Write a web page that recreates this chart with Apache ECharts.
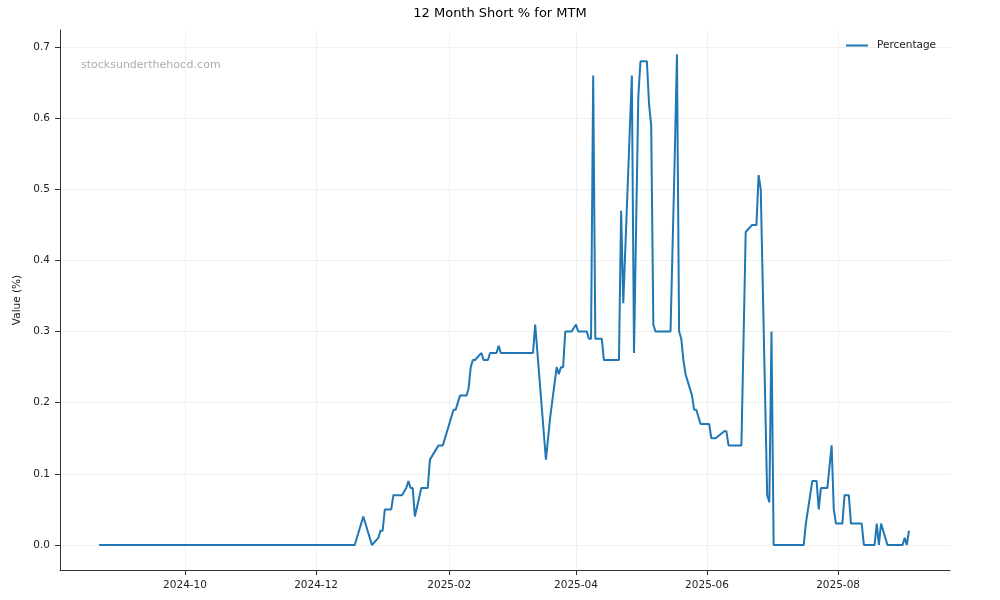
<!DOCTYPE html>
<html>
<head>
<meta charset="utf-8">
<script src="https://cdn.jsdelivr.net/npm/echarts@6/dist/echarts.min.js"></script>
<style>
  html, body { margin: 0; padding: 0; background: #fff; }
  #chart { width: 1000px; height: 600px; }
</style>
</head>
<body>
<div id="chart"></div>
<script>
const chartTitle = '12 Month Short % for MTM';
const seriesName = 'Percentage';
const yAxisName = 'Value (%)';
const watermark = 'stocksunderthehood.com';

const dates = [
  '2024-08-22','2024-12-19','2024-12-23','2024-12-27','2024-12-30','2024-12-31',
  '2025-01-01','2025-01-02','2025-01-05','2025-01-06','2025-01-10','2025-01-12',
  '2025-01-13','2025-01-14','2025-01-15','2025-01-16','2025-01-19','2025-01-22',
  '2025-01-23','2025-01-27','2025-01-29','2025-02-03','2025-02-04','2025-02-06',
  '2025-02-09','2025-02-10','2025-02-11','2025-02-12','2025-02-13','2025-02-16',
  '2025-02-17','2025-02-19','2025-02-20','2025-02-23','2025-02-24','2025-02-25',
  '2025-03-12','2025-03-13','2025-03-18','2025-03-20','2025-03-23','2025-03-24',
  '2025-03-25','2025-03-26','2025-03-27','2025-03-30','2025-04-01','2025-04-02',
  '2025-04-06','2025-04-07','2025-04-08','2025-04-09','2025-04-10','2025-04-13',
  '2025-04-14','2025-04-21','2025-04-22','2025-04-23','2025-04-27','2025-04-28',
  '2025-04-30','2025-05-01','2025-05-04','2025-05-05','2025-05-06','2025-05-07',
  '2025-05-08','2025-05-15','2025-05-17','2025-05-18','2025-05-19','2025-05-20',
  '2025-05-21','2025-05-22','2025-05-23','2025-05-25','2025-05-26','2025-05-27',
  '2025-05-29','2025-06-02','2025-06-03','2025-06-05','2025-06-09','2025-06-10',
  '2025-06-11','2025-06-17','2025-06-19','2025-06-22','2025-06-24','2025-06-25',
  '2025-06-26','2025-06-29','2025-06-30','2025-07-01','2025-07-02','2025-07-16',
  '2025-07-17','2025-07-20','2025-07-22','2025-07-23','2025-07-24','2025-07-27',
  '2025-07-29','2025-07-30','2025-07-31','2025-08-03','2025-08-04','2025-08-06',
  '2025-08-07','2025-08-12','2025-08-13','2025-08-18','2025-08-19','2025-08-20',
  '2025-08-21','2025-08-24','2025-08-31','2025-09-01','2025-09-02','2025-09-03'
];
const values = [
  0.00,0.00,0.04,0.00,0.01,0.02,
  0.02,0.05,0.05,0.07,0.07,0.08,
  0.09,0.08,0.08,0.04,0.08,0.08,
  0.12,0.14,0.14,0.19,0.19,0.21,
  0.21,0.22,0.25,0.26,0.26,0.27,
  0.26,0.26,0.27,0.27,0.28,0.27,
  0.27,0.31,0.12,0.18,0.25,0.24,
  0.25,0.25,0.30,0.30,0.31,0.30,
  0.30,0.29,0.29,0.66,0.29,0.29,
  0.26,0.26,0.47,0.34,0.66,0.27,
  0.63,0.68,0.68,0.62,0.59,0.31,
  0.30,0.30,0.55,0.69,0.30,0.29,
  0.26,0.24,0.23,0.21,0.19,0.19,
  0.17,0.17,0.15,0.15,0.16,0.16,
  0.14,0.14,0.44,0.45,0.45,0.52,
  0.50,0.07,0.06,0.30,0.00,0.00,
  0.03,0.09,0.09,0.05,0.08,0.08,
  0.14,0.05,0.03,0.03,0.07,0.07,
  0.03,0.03,0.00,0.00,0.03,0.00,
  0.03,0.00,0.00,0.01,0.00,0.02
];
const xTickDates = ['2024-10-01','2024-12-01','2025-02-01','2025-04-01','2025-06-01','2025-08-01'];
const yTickValues = [0, 0.1, 0.2, 0.3, 0.4, 0.5, 0.6, 0.7];

const DAY = 86400000;
const toTs = d => Date.UTC(+d.slice(0, 4), +d.slice(5, 7) - 1, +d.slice(8, 10));
const ref = toTs('2024-10-01');
const xMin = ref - 58.2 * DAY;
const xMax = ref + 356.1 * DAY;

const seriesData = dates.map((d, i) => [toTs(d), values[i]]);
const xTicks = xTickDates.map(toTs);

const font = 'DejaVu Sans';
const chart = echarts.init(document.getElementById('chart'), null, { renderer: 'canvas' });
chart.setOption({
  animation: false,
  backgroundColor: '#ffffff',
  title: {
    text: chartTitle,
    left: 'center',
    top: 2,
    textStyle: { fontFamily: font, fontSize: 13, fontWeight: 'normal', color: '#000' }
  },
  legend: {
    data: [{ name: seriesName, icon: 'rect' }],
    left: 841,
    top: 35,
    itemWidth: 22,
    itemHeight: 2,
    itemGap: 8,
    textStyle: { fontFamily: font, fontSize: 10.5, color: '#222', padding: [0, 0, 0, 4] }
  },
  grid: { left: 60, right: 50, top: 30, bottom: 30, containLabel: false },
  graphic: [{
    type: 'text',
    left: 81,
    top: 60,
    style: { text: watermark, fontFamily: font, fontSize: 11, fill: 'rgba(128,128,128,0.65)' }
  }],
  xAxis: {
    type: 'value',
    min: xMin,
    max: xMax,
    axisLine: { show: true, onZero: false, lineStyle: { color: '#333', width: 1 } },
    axisTick: { show: true, length: 5, lineStyle: { color: '#333' }, customValues: xTicks },
    axisLabel: {
      customValues: xTicks,
      margin: 10,
      fontFamily: font, fontSize: 10.5, color: '#222',
      formatter: function (v) {
        const d = new Date(v);
        return d.getUTCFullYear() + '-' + String(d.getUTCMonth() + 1).padStart(2, '0');
      }
    },
    splitLine: { show: true, lineStyle: { color: '#f0f0f0', width: 1 } }
  },
  yAxis: {
    type: 'value',
    min: -0.0352,
    max: 0.724,
    name: yAxisName,
    nameLocation: 'middle',
    nameGap: 33,
    nameTextStyle: { fontFamily: font, fontSize: 10.5, color: '#222' },
    axisLine: { show: true, onZero: false, lineStyle: { color: '#333', width: 1 } },
    axisTick: { show: true, length: 5, lineStyle: { color: '#333' }, customValues: yTickValues },
    axisLabel: {
      customValues: yTickValues,
      margin: 10,
      fontFamily: font, fontSize: 10.5, color: '#222',
      formatter: v => v.toFixed(1)
    },
    splitLine: { show: true, lineStyle: { color: '#f0f0f0', width: 1 } }
  },
  series: [{
    name: seriesName,
    type: 'line',
    data: seriesData,
    showSymbol: false,
    symbol: 'none',
    lineStyle: { color: '#1f77b4', width: 2 },
    itemStyle: { color: '#1f77b4' }
  }]
});
</script>
</body>
</html>
